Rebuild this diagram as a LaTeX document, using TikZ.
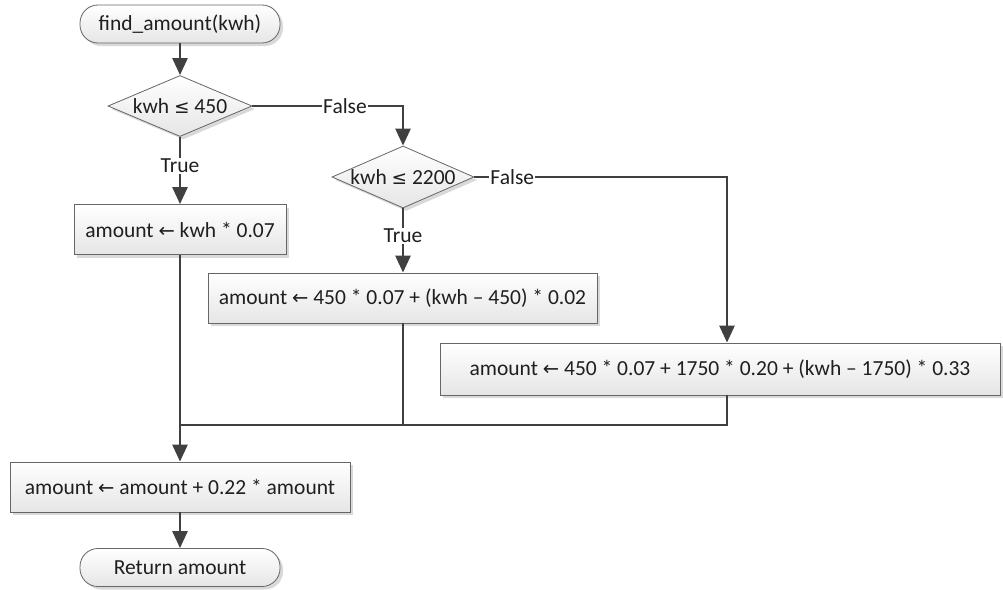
\documentclass[tikz,border=0pt]{standalone}
\usepackage{fontspec}
\setmainfont{Carlito}
\newfontfamily\symf{DejaVu Sans}
\usetikzlibrary{shapes.geometric,shadows,arrows.meta}
\newcommand{\lar}{{\symf\fontsize{19.5}{22}\selectfont ←}}
\newcommand{\leqs}{{\symf\fontsize{18.5}{22}\selectfont ≤}}
\begin{document}
\begin{tikzpicture}[x=1pt,y=-1pt,
 font=\fontsize{21.5}{25}\selectfont, text=black!88,
 base/.style={draw=black!60, line width=0.8pt, top color=white, bottom color=black!10,
   drop shadow={shadow xshift=3pt, shadow yshift=-3pt, fill=black!15, opacity=1}, inner sep=0pt},
 term/.style={base, rounded corners=18pt, minimum width=200pt, minimum height=38pt},
 proc/.style={base, minimum height=50pt},
 dec/.style={base, diamond, aspect=2.3},
 line/.style={draw=black!75, line width=2.6pt},
 arr/.style={line, -{Triangle[length=17pt,width=15pt]}},
 lbl/.style={fill=white, inner sep=1pt, text=black!88}
]
\useasboundingbox (0,0) rectangle (1003,589);
\node[term] (start) at (180,24) {find\_amount(kwh)};
\node[dec, minimum width=144pt, minimum height=61pt] (d1) at (180,106) {kwh \leqs{} 450};
\node[proc, minimum width=212pt] (b1) at (180,229.5) {amount \lar{} kwh * 0.07};
\node[dec, minimum width=142pt, minimum height=62pt] (d2) at (403,177) {kwh \leqs{} 2200};
\node[proc, minimum width=389pt] (b2) at (402.5,298) {amount \lar{} 450 * 0.07 + (kwh – 450) * 0.02};
\node[proc, minimum width=560pt, minimum height=52pt] (b3) at (720,369) {amount \lar{} 450 * 0.07 + 1750 * 0.20 + (kwh – 1750) * 0.33};
\node[proc, minimum width=340pt] (b4) at (180,487) {amount \lar{} amount + 0.22 * amount};
\node[term] (ret) at (180,567.5) {Return amount};
\coordinate (c1) at (403,106);
\coordinate (c2) at (727,177);
\coordinate (m) at (180,425);
\draw[arr] (start) -- (d1);
\draw[arr] (d1) -- node[lbl,pos=0.43]{True} (b1);
\draw[arr] (d1.east) -- node[lbl,pos=0.615]{False} (c1) -- (d2.north);
\draw[arr] (d2.south) -- node[lbl,pos=0.43]{True} (d2.south |- b2.north);
\draw[arr] (d2.east) -- node[lbl,pos=0.15]{False} (c2) -- (c2 |- b3.north);
\draw[line] (b3.south -| c2) |- (m);
\draw[line] (b2.south -| c1) |- (m);
\draw[arr] (b1) -- (b4);
\draw[arr] (b4) -- (ret);
\end{tikzpicture}
\end{document}
